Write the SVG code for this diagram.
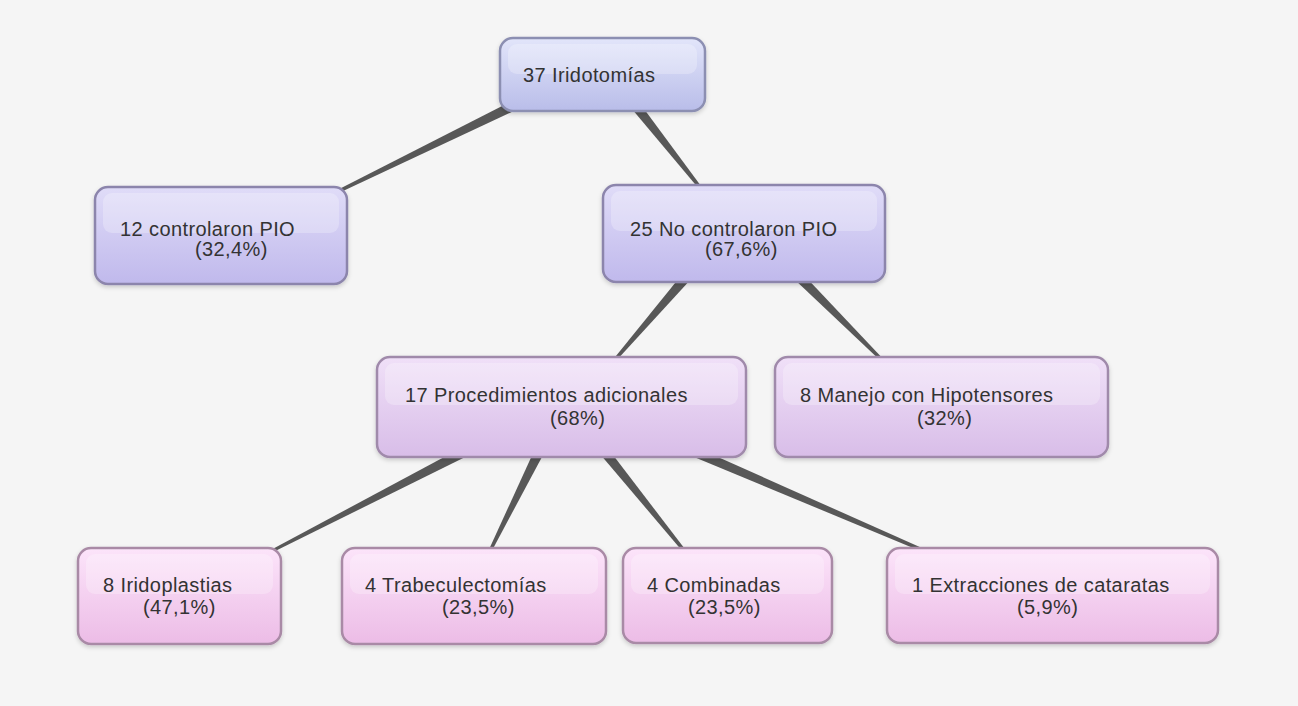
<svg xmlns="http://www.w3.org/2000/svg" width="1298" height="706" viewBox="0 0 1298 706">
<defs>
<linearGradient id="g1" x1="0" y1="0" x2="0" y2="1"><stop offset="0" stop-color="#e2e5fa"/><stop offset="1" stop-color="#b9bde9"/></linearGradient>
<linearGradient id="g2" x1="0" y1="0" x2="0" y2="1"><stop offset="0" stop-color="#e0dcf8"/><stop offset="1" stop-color="#c0b9ec"/></linearGradient>
<linearGradient id="g3" x1="0" y1="0" x2="0" y2="1"><stop offset="0" stop-color="#f0e0f8"/><stop offset="1" stop-color="#d8bde8"/></linearGradient>
<linearGradient id="g4" x1="0" y1="0" x2="0" y2="1"><stop offset="0" stop-color="#fce4fa"/><stop offset="1" stop-color="#ecbce6"/></linearGradient>
<filter id="sh" x="-10%" y="-10%" width="120%" height="130%"><feDropShadow dx="0" dy="2" stdDeviation="2" flood-color="#000" flood-opacity="0.18"/></filter>
</defs>
<style>
.box{stroke-width:2.5;filter:url(#sh)}
.l1{fill:url(#g1);stroke:#8c8fb2}
.l2{fill:url(#g2);stroke:#8c85ac}
.l3{fill:url(#g3);stroke:#a08aab}
.l4{fill:url(#g4);stroke:#a98aa6}
.hl{fill:#ffffff;opacity:0.25}
text{font-family:"Liberation Sans",Arial,sans-serif;font-size:20px;letter-spacing:0.4px;fill:#333333}
.c{fill:#585858}
</style>
<rect x="0" y="0" width="1298" height="706" fill="#f5f5f5"/>
<g id="connectors">
<polygon class="c" points="512.8,100.5 336.3,190.6 337.7,193.4 517.2,109.5"/>
<polygon class="c" points="631.1,108.1 700.8,190.9 703.2,189.1 638.9,101.9"/>
<polygon class="c" points="684.2,271.7 611.9,361.0 614.1,363.0 691.8,278.3"/>
<polygon class="c" points="793.5,278.5 882.9,363.1 885.1,360.9 800.5,271.5"/>
<polygon class="c" points="465.7,445.6 269.3,550.7 270.7,553.3 470.3,454.4"/>
<polygon class="c" points="535.5,447.8 487.7,552.3 490.3,553.7 544.5,452.2"/>
<polygon class="c" points="599.1,453.1 684.8,553.9 687.2,552.1 606.9,446.9"/>
<polygon class="c" points="688,454.6 926.4,553.4 927.6,550.6 692,445.4"/>
</g>
<g id="n-root">
<rect class="box l1" x="500" y="38" width="205" height="73" rx="13"/>
<rect class="hl" x="508" y="44" width="189" height="30" rx="9"/>
<text x="523" y="82">37 Iridotomías</text>
</g>
<g id="n-controlaron">
<rect class="box l2" x="95" y="187" width="252" height="97" rx="13"/>
<rect class="hl" x="103" y="193" width="236" height="40" rx="9"/>
<text x="120" y="236">12 controlaron PIO</text>
<text x="195" y="256">(32,4%)</text>
</g>
<g id="n-nocontrolaron">
<rect class="box l2" x="603" y="185" width="282" height="97" rx="13"/>
<rect class="hl" x="611" y="191" width="266" height="40" rx="9"/>
<text x="630" y="236">25 No controlaron PIO</text>
<text x="705" y="256">(67,6%)</text>
</g>
<g id="n-procedimientos">
<rect class="box l3" x="377" y="357" width="369" height="100" rx="13"/>
<rect class="hl" x="385" y="363" width="353" height="42" rx="9"/>
<text x="405" y="402">17 Procedimientos adicionales</text>
<text x="550" y="425">(68%)</text>
</g>
<g id="n-manejo">
<rect class="box l3" x="775" y="357" width="333" height="100" rx="13"/>
<rect class="hl" x="783" y="363" width="317" height="42" rx="9"/>
<text x="800" y="402">8 Manejo con Hipotensores</text>
<text x="917" y="425">(32%)</text>
</g>
<g id="n-iridoplastias">
<rect class="box l4" x="78" y="548" width="203" height="96" rx="13"/>
<rect class="hl" x="86" y="554" width="187" height="40" rx="9"/>
<text x="103" y="592">8 Iridoplastias</text>
<text x="143" y="614">(47,1%)</text>
</g>
<g id="n-trabeculectomias">
<rect class="box l4" x="342" y="548" width="264" height="96" rx="13"/>
<rect class="hl" x="350" y="554" width="248" height="40" rx="9"/>
<text x="365" y="592">4 Trabeculectomías</text>
<text x="442" y="614">(23,5%)</text>
</g>
<g id="n-combinadas">
<rect class="box l4" x="623" y="548" width="209" height="95" rx="13"/>
<rect class="hl" x="631" y="554" width="193" height="40" rx="9"/>
<text x="647" y="592">4 Combinadas</text>
<text x="688" y="614">(23,5%)</text>
</g>
<g id="n-extracciones">
<rect class="box l4" x="887" y="548" width="331" height="95" rx="13"/>
<rect class="hl" x="895" y="554" width="315" height="40" rx="9"/>
<text x="912" y="592">1 Extracciones de cataratas</text>
<text x="1017" y="614">(5,9%)</text>
</g>
</svg>
